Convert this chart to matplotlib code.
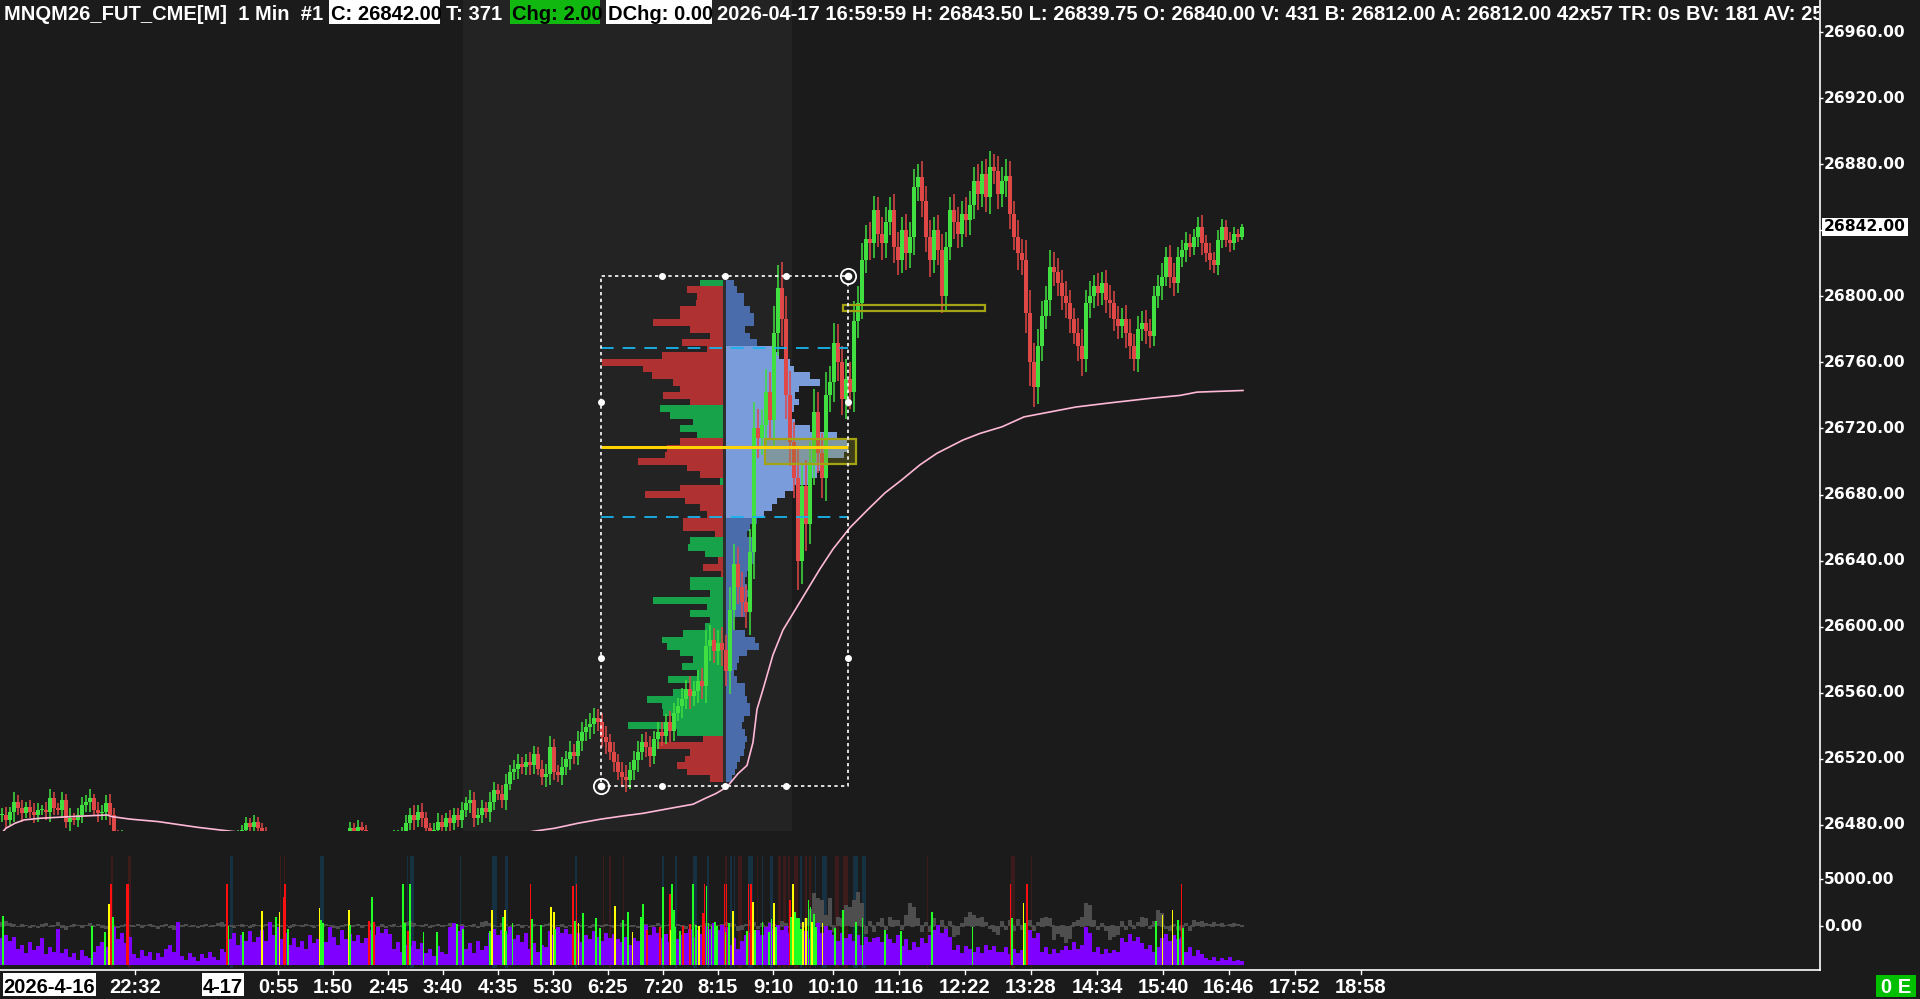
import numpy as np
import matplotlib
matplotlib.use("Agg")
import matplotlib.pyplot as plt
from matplotlib import font_manager
from matplotlib.patches import Rectangle

# ---------------------------------------------------------------- data
# 4-minute bars, x = minutes since chart start (2026-04-16 20:17)
BAR_MIN = 4
START_MIN = 20 * 60 + 17

CLOSE = [
    26486, 26483, 26488, 26494, 26490, 26487, 26491, 26488, 26486, 26489,
    26489, 26488, 26496, 26490, 26489, 26495, 26482, 26484, 26483, 26486,
    26492, 26494, 26496, 26489, 26487, 26488, 26493, 26486, 26474, 26471, 26473, 26468,
    26462, 26458, 26455, 26460, 26452, 26448, 26450, 26445, 26449, 26454,
    26451, 26447, 26452, 26456, 26460, 26458, 26463, 26466, 26462, 26459,
    26464, 26468, 26465, 26469, 26470, 26467, 26471, 26473,
    26477, 26481, 26479, 26482, 26478, 26476,
    26468, 26463, 26460, 26457, 26455, 26458, 26452, 26449, 26453, 26456,
    26451, 26454, 26458, 26461, 26459, 26463, 26466, 26462, 26465, 26469, 26472,
    26478, 26475, 26479, 26477, 26472,
    26468, 26466, 26470, 26467, 26471, 26469, 26473, 26474, 26476,
    26481, 26486, 26483, 26488, 26484, 26478, 26474, 26477, 26482, 26479,
    26484, 26481, 26486, 26483,
    26489, 26493, 26495, 26484, 26486, 26490, 26488, 26494, 26501, 26499,
    26495, 26505, 26512, 26514, 26517, 26515, 26518, 26516, 26523, 26514,
    26509, 26511, 26527, 26512, 26510, 26515, 26520, 26524, 26522, 26531,
    26536, 26539, 26541, 26545, 26542, 26533, 26530, 26524, 26518, 26512,
    26509, 26507, 26513, 26519, 26524, 26530, 26527, 26522, 26532, 26536,
    26534, 26542, 26537, 26548, 26552, 26556, 26562, 26558, 26561, 26567,
    26564, 26588, 26592, 26585, 26590, 26586, 26573, 26610, 26638, 26624,
    26615, 26609, 26645, 26720, 26714, 26722, 26742, 26725, 26778, 26805,
    26786, 26740, 26712, 26690, 26640, 26685, 26662, 26700, 26730, 26705,
    26690, 26740, 26748, 26772, 26760, 26738, 26750, 26742, 26785, 26796,
    26822, 26835, 26832, 26852, 26838, 26832, 26845, 26852, 26830, 26822,
    26840, 26826, 26836, 26866, 26872, 26858, 26836, 26822, 26840, 26828,
    26800, 26830, 26852, 26845, 26838, 26850, 26846, 26855, 26870, 26862,
    26874, 26860, 26878, 26876, 26862, 26870, 26873, 26850, 26836, 26826,
    26822, 26790, 26760, 26745, 26770, 26788, 26798, 26818, 26815, 26808,
    26800, 26796, 26786, 26778, 26770, 26762, 26796, 26800, 26806, 26802,
    26808, 26798, 26796, 26786, 26782, 26786, 26778, 26770, 26762, 26780,
    26784, 26779, 26776, 26800, 26806, 26812, 26824, 26812, 26808, 26824,
    26828, 26832, 26830, 26836, 26842, 26832, 26826, 26822, 26819, 26834,
    26842, 26834, 26832, 26838, 26836, 26842,
]

# wick length beyond the body, points
WICK = [
    4, 5, 3, 6, 4, 5, 3, 4, 5, 4, 3, 5, 6, 4, 3, 5, 4, 6, 3, 4,
    5, 4, 6, 3, 5, 4, 5, 6, 4, 3, 4, 3,
    3, 2, 3, 4, 2, 3, 3, 2, 4, 3, 2, 3, 3, 2, 4, 3, 2, 3, 3, 2, 3, 4, 2, 3, 3, 2, 3, 4,
    3, 4, 3, 4, 3, 3,
    3, 2, 3, 3, 2, 4, 3, 2, 3, 3, 2, 3, 4, 2, 3, 3, 2, 3, 3, 2, 3,
    4, 3, 4, 3, 3,
    3, 2, 3, 3, 2, 3, 4, 3, 3,
    5, 4, 6, 4, 5, 4, 3, 4, 5, 4, 3, 5, 4, 4,
    5, 4, 6, 5, 4, 5, 4, 6, 5, 4,
    5, 6, 4, 5, 6, 4, 5, 6, 5, 4,
    5, 6, 7, 5, 4, 6, 5, 7, 5, 6,
    6, 5, 7, 6, 5, 6, 7, 5, 6, 5,
    6, 7, 5, 6, 7, 5, 6, 7, 5, 6,
    6, 5, 7, 6, 5, 7, 6, 8, 6, 7,
    8, 10, 9, 7, 8, 10, 9, 14, 12, 10,
    9, 10, 14, 16, 12, 10, 14, 12, 16, 14,
    16, 14, 15, 12, 18, 14, 16, 12, 14, 12,
    12, 14, 10, 12, 11, 10, 12, 10, 12, 10,
    10, 8, 10, 9, 8, 10, 9, 8, 10, 9,
    8, 10, 9, 11, 8, 10, 9, 10, 8, 9,
    10, 9, 8, 10, 9, 8, 10, 9, 8, 10,
    8, 9, 10, 8, 9, 8, 10, 9, 8, 10,
    9, 12, 14, 12, 10, 9, 8, 10, 9, 8,
    8, 9, 8, 7, 9, 10, 8, 9, 7, 8,
    7, 8, 9, 7, 8, 7, 9, 8, 7, 8,
    7, 8, 7, 6, 7, 8, 6, 7, 8, 6,
    6, 7, 6, 5, 6, 7, 5, 6, 5, 6,
    5, 4, 5, 4, 3, 2,
]

# volume per bar, hundreds of contracts
VOLUME = [
    20, 22, 18, 21, 12, 15, 9, 17, 11, 14, 20, 8, 13, 10, 27, 9, 12,
    6, 9, 4, 11, 7, 5, 10, 14, 17, 13, 22, 28, 19, 24, 16, 21,
    8, 5, 11, 7, 10, 4, 9, 6, 12, 15, 10, 32, 7, 4, 9, 6, 3, 8, 5, 10, 6, 4,
    12, 10, 19, 24, 15, 22, 18, 25, 17, 21, 26, 18, 32, 22, 28, 19, 24,
    15, 20, 13, 18, 12, 22, 16, 19, 24, 17, 28, 21, 15, 26, 19, 23,
    18, 22, 16, 20, 26, 22, 28, 24, 27, 23, 12, 17, 10, 15, 14, 18, 12, 16,
    9, 12, 7, 14, 10, 8, 28, 31, 25, 29, 12, 16, 9, 18, 11, 14,
    24, 27, 22, 26, 23, 28, 19, 22, 17, 24, 12, 16, 10, 15, 13,
    25, 22, 28, 24, 27, 23, 20, 24, 17, 22, 19, 25, 21, 18, 24, 20, 23, 19,
    17, 21, 15, 20, 18, 26, 30, 22, 28, 24, 20, 23, 17, 25, 19, 22,
    24, 27, 21, 26, 23, 29, 27, 31, 26, 30, 28, 15, 20, 12, 18, 22,
    24, 20, 26, 22, 28, 31, 27, 30, 26, 29, 24, 20, 27, 22, 25, 19,
    27, 31, 24, 29, 26, 22, 18, 24, 20, 23, 18, 22, 15, 21, 17, 20,
    21, 17, 23, 19, 16, 22, 14, 19, 11, 17, 13, 20, 16, 22, 26, 30, 24, 27, 21,
    11, 15, 9, 14, 12, 10, 13, 9, 15, 11, 14, 10, 10, 13, 8, 12, 9, 11,
    22, 26, 20, 24, 10, 13, 8, 12, 9, 11, 14, 11, 17, 12, 15, 28,
    24, 10, 13, 8, 12, 9, 11, 10, 20, 17, 23, 18, 21, 16, 12, 15, 10, 13,
    20, 23, 18, 22, 19, 21, 10, 13, 7, 11, 8, 5, 4, 6, 3, 5, 4, 6, 3, 4, 3,
]

# bar delta, hundreds of contracts
DELTA = [
    4, 5, 3, 2, -1, 2, 1, -2,
    1, -2, 2, 3, -1, 1, 4, -2, -4, -1, 2, 1, -2, 1, 3, -1, 2, -2, -3, -5, -4, -2, 1, 2,
    1, -1, 2, -2, 1, 2, -1, -3, 1, 2, -2, -4, -1, 1, 2, -1, 1, -2, 1, 2, -1, 1, 3, 4, 2, 1, -2, 1, 2,
    1, -2, 2, 1, -1, 2, -3, 1, 2, -1, 1, -2, 2, 1, -1, 2, 1, -2, 1, -1,
    2, 1, -2, -3, 1, 2, -1, 1, 2, -2, 1, 3, 1, -1, 2, -2, 1, 2, -1, 1,
    4, 5, 3, 1, -1, 2, -2, 1, 2, -1, 1, 3, -2, 1, 2, -1, 1, 2, -2, 4, 5, 3, 1, -1, 3, 2, -1, 1, 2, -2,
    1, -2, 2, 1, -1, 2, 3, -1, 1, 2, -2, 1, 3, 2, -1, 1, -2, 2, 1, -1, 2, 1, -2, 1, 3, 2, -1, 1, -2, 2,
    2, -1, 1, 3, -2, 1, 2, -1, 2, 1, -3, 1, 2, -2, 1, 3, 2, -1, 1, 2,
    4, 3, 2, -5, -4, 2, 6, 4, -3, 3, -2, 4, 2, -3, 5, 3, -2, 4, 6, 3,
    8, 18, 35, 30, 28, 12, 30, -6, 10, 8, 22, 20, 28, 36, 25,
    -8, 5, -6, 4, 8, -4, 10, 6, 6, -4, 12, 25, 20, 8, -6,
    4, -6, 8, -5, 6, -4, 5, -12, -10, 3, 10, 15, 12, 8, 10,
    4, -3, -6, -10, 5, -4, 6, -5, 7, -4, 3, 6, -5, 4, 8,
    10, 8, -15, -8, -12, -18, -14, 4, 6, 10, 25, 22, 6, -4, 3,
    -5, -15, -12, -10, 5, -4, 6, -3, 4, 10, 8, -3, 5, 17, 14,
    -3, -5, 2, -4, -5, 3, -5, 6, 4, 5, 3, 2, 4, 2, 3, 1, 2, 3, 2, 1,
]

# large-trade markers: minute, size (hundreds of contracts), kind
SPIKE_X = [3, 92, 105, 109, 111, 113, 127, 128, 227, 228.5, 243, 262, 276, 279.5, 283.6,
           284.8, 287.6, 319.5, 321, 323, 349, 350, 369, 372, 374, 403, 405, 407.6, 409.6,
           423.5, 436.6, 457, 462.7, 489.6, 491.6, 502.7, 504.7, 506, 512.4, 530.4, 531.6,
           540.6, 550.8, 553.7, 555.3, 573.2, 575.3, 576.5, 578.5, 582.6, 595.7, 599.8,
           614.9, 622.6, 628.3, 632.4,
           641.2, 643.3, 647.3, 659.6, 663.3, 669.8, 670.6, 672.2, 673.9, 674.7, 679.6,
           682.8, 690.2, 692.6, 693.4, 696.3, 699.2, 703.2, 704.5, 706.5, 708.5, 711.4,
           714.7, 716.7, 724.5, 725.7, 726.5, 728.9, 732.6, 747.3, 748.5, 751, 752.6, 755,
           762.4, 768.9, 771.4, 773.8, 775.9, 789.7, 791, 792.6, 793.4, 795, 797, 799,
           801.2, 803.2, 806, 808.5, 810.5, 812.2, 813.8, 816.3, 822.4, 834.6, 842.8,
           855.8, 862.4, 885.2, 901.1, 931.7, 972.5, 1010.5, 1011.7, 1023.5, 1024.7,
           1026.8, 1155.7, 1162.6, 1172.4, 1177.7, 1181.4, 1183]
SPIKE_SIZE = [49, 39, 33, 61, 81, 48, 81, 81, 81, 39, 33, 54, 48, 53, 68,
              81, 36, 57, 45, 42, 55, 40, 44, 68, 43, 81, 42, 34, 81,
              33, 33, 41, 36, 34, 55, 48, 55, 34, 42, 81, 46,
              40, 58, 53, 36, 79, 44, 81, 42, 52, 47, 37,
              59, 45, 53, 33,
              48, 61, 35, 38, 78, 71, 35, 81, 55, 38, 34,
              39, 41, 81, 65, 40, 39, 52, 81, 79, 42, 39,
              43, 39, 81, 33, 81, 42, 54, 34, 81, 81, 63, 35,
              43, 33, 46, 62, 38, 65, 48, 81, 55, 53, 47, 47,
              36, 43, 47, 65, 58, 43, 51, 38, 42, 37, 55,
              43, 47, 35, 34, 53, 38, 81, 47, 62, 42,
              81, 44, 50, 55, 45, 81, 37]
SPIKE_KIND = list("gggyrgrrrggygyr" "rgyggygrgrggr" "ggggggygyggrg" "gyygrgry" "gggyg"
                  "gyggrrgryggg" "grrgggyrrggg" "ggrgrgygrryg" "gggygrgyyg"
                  "gggyyggyggyg" "gggggggrgyg" "rgyygrg")

# order-flow highlight bands: start minute, width, kind (t = buy imbalance, r = sell)
BAND_START = [229.7, 320, 406.8, 410, 460, 491.6, 504.7, 575, 662.4, 674.7, 693, 707.3,
              729.8, 733.8, 748, 761.6, 769.7, 800, 814.6, 822, 853.4, 862.4,
              111, 128, 280, 283.6, 602.6, 609, 623, 724.9, 738, 757, 778, 782.8, 788,
              794.2, 805.2, 809.3, 835, 842.8, 926.8, 1010.5, 1031]
BAND_WIDTH = [2.9, 4, 1.2, 4, 1.2, 4.9, 2.9, 1.5, 1.3, 2, 4, 2.1,
              2, 1.2, 5.4, 1, 3.7, 1.6, 1.7, 4.5, 4.1, 4,
              1.6, 3.4, 1, 1, 1, 2, 1, 2.1, 4, 1.3, 2.8, 2.9, 2,
              4.1, 2.1, 2.1, 3.7, 5.2, 1.2, 4.9, 1]
BAND_KIND = ["t"] * 22 + ["r"] * 21

# VWAP
VWAP_X = [0, 6, 15, 24, 40, 70, 107, 112, 130, 158, 198, 233, 300, 400, 500, 532, 555,
          578, 601, 624, 643, 670, 693, 705, 716, 727, 738, 747, 753, 757, 763, 773,
          783, 797, 810, 820, 833, 850, 868, 885, 902, 920, 937, 963, 980, 1002, 1024,
          1050, 1076, 1110, 1154, 1180, 1197, 1243]
VWAP_PRICE = [26474, 26478, 26481, 26483, 26484, 26485, 26486, 26485, 26483.5, 26482,
              26478.5, 26476, 26472, 26469, 26472, 26476, 26478, 26481, 26483.5, 26485.5,
              26487, 26490, 26492.5, 26496, 26499, 26503, 26511, 26516, 26530, 26550,
              26562, 26583, 26598, 26612, 26625, 26635, 26647, 26660, 26671, 26681, 26689,
              26698, 26705, 26713, 26717, 26721, 26727, 26730, 26733, 26735.5, 26738.5,
              26740, 26742, 26743]

# volume profile (4-point rows from PROFILE_LOW upward)
PROFILE_LOW, PROFILE_STEP = 26508, 4
PROFILE_VOL = [6, 9, 11, 14, 18, 19, 21, 19, 16, 18, 24, 24, 21, 19, 19, 11, 8, 11, 13,
               21, 33, 29, 19, 8, 8, 19, 21, 21, 23, 21, 19, 21, 23, 28, 29, 29, 28, 21,
               24, 31, 38, 46, 51, 59, 68, 84, 91, 94, 98, 118, 122, 121, 111, 84, 69,
               64, 68, 73, 69, 73, 94, 84, 68, 64, 53, 48, 31, 24, 19, 28, 28, 24, 18,
               18, 11, 8]
PROFILE_DELTA = [-13, -36, -46, -38, -33, -66, -20, 46, 95, 50, 60, 61, 76, 50, 33, 55,
                 26, 41, 30, 43, 56, 61, 40, 18, 13, 33, 16, 70, 13, 33, 33, -2, -20,
                 -5, 18, 35, 33, -8, -40, -40, -16, -23, -38, -78, -43, 3, -23, -36,
                 -85, -58, -56, -43, 26, 43, 30, 53, 63, -33, -60, -43, -50, -71, -80,
                 -121, -61, -16, -41, -13, -33, -70, -43, -43, -27, -26, -36, 23]
POC, VAH, VAL = 26708.5, 26768.5, 26666.5
PROFILE_BOX = (601, 848, 26503.6, 26812.3)   # minutes, prices
PROFILE_SPLIT = 724.5

ZONES = [  # (x0, x1, p0, p1, filled)
    (843, 985, 26790.9, 26794.6, False),
    (765, 855.5, 26698.3, 26713.4, True),
]

TIME_LABELS = ["22:32", "0:55", "1:50", "2:45", "3:40", "4:35", "5:30", "6:25", "7:20",
               "8:15", "9:10", "10:10", "11:16", "12:22", "13:28", "14:34", "15:40",
               "16:46", "17:52", "18:58"]
PRICE_LEVELS = list(range(26480, 26961, 40))
SESSION = (463, 792)

# ---------------------------------------------------------------- style
W, H = 1920, 999
BG = "#1b1b1b"
SESSION_BG = "#232323"
GREEN, RED = "#3fe03f", "#e04747"
PGREEN, PRED = "#17a349", "#b03131"
BLUE_DARK, BLUE_LIGHT = "#4b6cab", "#7a9cdb"
PRICE_LIM = (26476.3, 26979.4)
VOL_LIM = (-4468, 9149)          # 1 px = 106.4 units, 0 at y=926
VOL_BASE = -4149
PX = 106.38
VOL_PX = 1.35                    # px per hundred contracts

names = {f.name for f in font_manager.fontManager.ttflist}
if "Liberation Sans Narrow" in names:
    NARROW = dict(family="Liberation Sans Narrow", weight="bold", size=17.4)
else:
    NARROW = dict(family="Liberation Sans", weight="bold", size=14.5)
AXF = dict(family="DejaVu Sans", weight="bold", size=11.2)

fig = plt.figure(figsize=(W / 100, H / 100), dpi=100, facecolor=BG)


def px_axes(x0, y0, x1, y1):
    ax = fig.add_axes([x0 / W, 1 - y1 / H, (x1 - x0) / W, (y1 - y0) / H])
    ax.set_axis_off()
    return ax


# ---------------------------------------------------------------- price panel
ax = px_axes(0, 0, 1819, 831)
ax.set_xlim(0, 1819)
ax.set_ylim(*PRICE_LIM)
ax.axvspan(*SESSION, color=SESSION_BG, lw=0, zorder=0)

prices = PROFILE_LOW + PROFILE_STEP * np.arange(len(PROFILE_VOL))
pvol = np.array(PROFILE_VOL, float)
pdel = np.array(PROFILE_DELTA, float)
in_va = (prices >= VAL) & (prices <= VAH)
ax.barh(prices, pvol, left=PROFILE_SPLIT + 1.5, height=PROFILE_STEP,
        color=np.where(in_va, BLUE_LIGHT, BLUE_DARK), lw=0, zorder=2)
ax.barh(prices, -np.abs(pdel), left=PROFILE_SPLIT - 1.5, height=PROFILE_STEP,
        color=np.where(pdel > 0, PGREEN, PRED), lw=0, zorder=2)
ax.add_patch(Rectangle((PROFILE_SPLIT - 1.5, prices[0] - 2), 3, prices[-1] - prices[0] + 4,
                       color="#2e2e2e", lw=0, zorder=2))

close = np.array(CLOSE, float)
opens = np.r_[close[0], close[:-1]]
wick = np.array(WICK, float)
xb = np.arange(len(close)) * BAR_MIN + BAR_MIN / 2
cols = np.where(close >= opens, GREEN, RED)
top = np.maximum(opens, close)
bot = np.minimum(opens, close)
ax.vlines(xb, bot - wick, top + wick, colors=cols, lw=1.1, zorder=3)
body = close - opens
body = np.where(np.abs(body) < 0.7, 0.7, body)
ax.bar(xb, body, bottom=opens, width=3.6, lw=0, color=cols, zorder=4)

ax.plot(VWAP_X, VWAP_PRICE, color="#ffb8d6", lw=1.2, zorder=5)

bx0, bx1, bp0, bp1 = PROFILE_BOX
ax.hlines(POC, bx0, bx1, color="#ffd400", lw=2.2, zorder=7)
ax.hlines([VAH, VAL], bx0, bx1, color="#18b4ec", lw=1.3, ls=(0, (7, 5)), zorder=7)
ax.plot([bx0, bx1, bx1, bx0, bx0], [bp0, bp0, bp1, bp1, bp0], color="white",
        lw=1.2, ls=(0, (2, 2)), zorder=8)
mids_x = [662, PROFILE_SPLIT, 786]
mids_p = [26736, 26581]
ax.plot(mids_x * 2, [bp1] * 3 + [bp0] * 3, "o", color="white", ms=4, zorder=9)
ax.plot([bx0, bx0, bx1, bx1], mids_p * 2, "o", color="white", ms=4, zorder=9)
for cx, cp in [(bx0, bp0), (bx1, bp1)]:
    ax.plot(cx, cp, "o", ms=11, mfc="none", mec="white", mew=1.3, zorder=9)
    ax.plot(cx, cp, "o", ms=4.5, color="white", zorder=9)

for zx0, zx1, zp0, zp1, filled in ZONES:
    ax.add_patch(Rectangle((zx0, zp0), zx1 - zx0, zp1 - zp0,
                           fc=(0.55, 0.55, 0.1, 0.3) if filled else "none",
                           ec="#a3a314", lw=1.6, zorder=6))

# right price scale
axr = px_axes(1819, 0, 1920, 831)
axr.set_xlim(0, 101)
axr.set_ylim(*PRICE_LIM)
axr.hlines(PRICE_LEVELS, 0, 3.5, color="white", lw=1)
for p in PRICE_LEVELS:
    axr.text(5, p, f"{p:.2f}", color="white", va="center", ha="left", clip_on=True, **AXF)
axr.text(5, close[-1], f"{close[-1]:.2f}", color="black", va="center", ha="left",
         bbox=dict(boxstyle="square,pad=0.12", fc="white", ec="none"), **AXF)

# ---------------------------------------------------------------- volume panel
axv = px_axes(0, 840, 1819, 968)
axv.set_xlim(0, 1819)
axv.set_ylim(*VOL_LIM)
band_col = {"t": "#163242", "r": "#3d1b1b"}
axv.bar(BAND_START, 7447 - VOL_LIM[0], bottom=VOL_LIM[0], width=BAND_WIDTH, align="edge",
        color=[band_col[k] for k in BAND_KIND], lw=0, zorder=0)
xv = np.arange(len(VOLUME)) * BAR_MIN + BAR_MIN / 2
xd = np.arange(len(DELTA)) * BAR_MIN + BAR_MIN / 2
axv.plot([0, len(DELTA) * BAR_MIN], [0, 0], color="#555555", lw=1.2, ls=(0, (3, 3)), zorder=1)
axv.bar(xd, np.array(DELTA) * 100, width=3.2, color="#4e4e4e", lw=0, zorder=1)
axv.bar(xv, np.array(VOLUME) * VOL_PX * PX, bottom=VOL_BASE, width=3.6, color="#8000ff",
        lw=0, zorder=2)
spike_col = {"r": "#ff1010", "y": "#ffff00", "g": "#22ff22"}
axv.bar(SPIKE_X, np.array(SPIKE_SIZE) * PX, bottom=VOL_BASE, width=1.8, lw=0,
        color=[spike_col[k] for k in SPIKE_KIND], zorder=3)

axvr = px_axes(1819, 840, 1920, 968)
axvr.set_xlim(0, 101)
axvr.set_ylim(*VOL_LIM)
axvr.hlines([5000, 0], 0, 3.5, color="white", lw=1)
axvr.text(5, 5000, "5000.00", color="white", va="center", ha="left", **AXF)
axvr.text(5, 0, "0.00", color="white", va="center", ha="left", **AXF)

# ---------------------------------------------------------------- header
axh = px_axes(0, 0, 1819, 26)
axh.set_xlim(0, 1819)
axh.set_ylim(26, 0)
for x0, x1, c in [(329, 440, "white"), (510, 600, "#10b810"), (606, 712, "white")]:
    axh.add_patch(Rectangle((x0, 0), x1 - x0, 23.5, color=c, lw=0))
segs = [
    (4, "MNQM26_FUT_CME[M]  1 Min  #1", "white"),
    (331, f"C: {close[-1]:.2f}", "black"),
    (446, "T: 371", "white"),
    (512, "Chg: 2.00", "black"),
    (608, "DChg: 0.00", "black"),
    (717, "2026-04-17 16:59:59 H: 26843.50 L: 26839.75 O: 26840.00 V: 431 "
          "B: 26812.00 A: 26812.00 42x57 TR: 0s BV: 181 AV: 250", "white"),
]
for x0, s, c in segs:
    axh.text(x0, 20.5, s, color=c, va="baseline", ha="left", clip_on=True, **NARROW)

# ---------------------------------------------------------------- frame & time axis
axo = px_axes(0, 0, W, H)
axo.set_xlim(0, W)
axo.set_ylim(H, 0)
axo.plot([1819.5, 1819.5], [0, 969.5], color="white", lw=1.2)
axo.plot([0, 1819.5], [969.5, 969.5], color="white", lw=1.2)

for lab in TIME_LABELS:
    h, m = map(int, lab.split(":"))
    x = (h * 60 + m - START_MIN) % 1440
    axo.plot([x, x], [969.5, 974], color="white", lw=1)
    axo.text(x, 993, lab, color="white", ha="center", va="baseline", **NARROW)

midnight = (0 - START_MIN) % 1440
for x0, x1, s in [(3, 96, "2026-4-16"), (midnight - 21, midnight + 21, "4-17")]:
    axo.add_patch(Rectangle((x0, 973), x1 - x0, 23, color="white", lw=0))
    axo.text((x0 + x1) / 2, 993, s, color="black", ha="center", va="baseline", **NARROW)

axo.add_patch(Rectangle((1876, 975), 40, 22, color="#00c000", lw=0))
axo.text(1896, 993, "0 E", color="white", ha="center", va="baseline", **NARROW)

fig.savefig("out.png", dpi=100, facecolor=BG)
